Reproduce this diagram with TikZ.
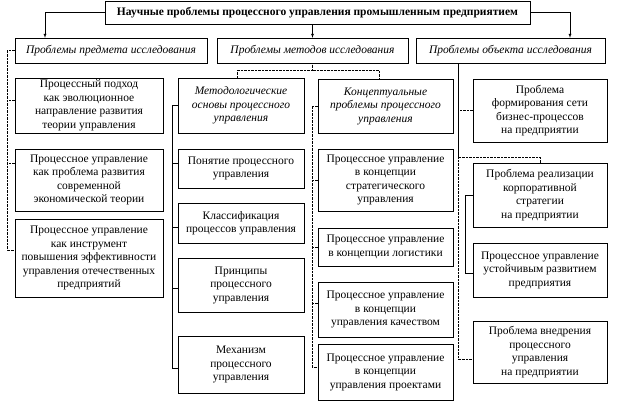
\documentclass[tikz,border=0pt]{standalone}
\usepackage{fontspec}
\setmainfont{Liberation Serif}
\usepackage{tikz}
\usetikzlibrary{arrows,calc}

\begin{document}
\begin{tikzpicture}[x=1pt,y=-1pt,
  box/.style={draw, thin, rectangle, align=center, inner sep=1pt, font=\fontsize{11.5}{13.5}\selectfont},
  head/.style={box, font=\fontsize{11.5}{13.5}\selectfont\itshape},
  link/.style={draw, thin, densely dotted},
  line/.style={draw, thin},
  arr/.style={line, -latex}]

\useasboundingbox (0,0) rectangle (623,417);

\node[box, font=\fontsize{11.5}{13.5}\selectfont\bfseries, minimum width=425pt, minimum height=23pt] (top) at (317.5,12.5) {Научные проблемы процессного управления промышленным предприятием};

\node[head, minimum width=192pt, minimum height=25pt] (p1) at (111,50.5) {Проблемы предмета исследования};
\node[head, minimum width=191pt, minimum height=25pt] (p2) at (312.5,50.5) {Проблемы методов исследования};
\node[head, minimum width=189pt, minimum height=25pt] (p3) at (510.5,50.5) {Проблемы объекта исследования};

\node[box, minimum width=148pt, minimum height=55pt] (a1) at (89,105.5) {Процессный подход\\как эволюционное\\направление развития\\теории управления};
\node[box, minimum width=148pt, minimum height=62pt] (a2) at (89,180) {Процессное управление\\как проблема развития\\современной\\экономической теории};
\node[box, minimum width=148pt, minimum height=78pt] (a3) at (89,258) {Процессное управление\\как инструмент\\повышения эффективности\\управления отечественных\\предприятий};

\node[head, minimum width=126pt, minimum height=55pt] (m0) at (241,105.5) {Методологические\\основы процессного\\управления};
\node[box, minimum width=126pt, minimum height=39pt] (m1) at (241,168.5) {Понятие процессного\\управления};
\node[box, minimum width=126pt, minimum height=40pt] (m2) at (241,223) {Классификация\\процессов управления};
\node[box, minimum width=126pt, minimum height=54pt] (m3) at (241,285) {Принципы\\процессного\\управления};
\node[box, minimum width=126pt, minimum height=57pt] (m4) at (241,364.5) {Механизм\\процессного\\управления};

\node[head, minimum width=135pt, minimum height=54pt] (c0) at (385.5,106) {Концептуальные\\проблемы процессного\\управления};
\node[box, minimum width=135pt, minimum height=62pt] (c1) at (385.5,180) {Процессное управление\\в концепции\\стратегического\\управления};
\node[box, minimum width=135pt, minimum height=38pt] (c2) at (385.5,247) {Процессное управление\\в концепции логистики};
\node[box, minimum width=135pt, minimum height=55pt] (c3) at (385.5,309.5) {Процессное управление\\в концепции\\управления качеством};
\node[box, minimum width=135pt, minimum height=56pt] (c4) at (385.5,372) {Процессное управление\\в концепции\\управления проектами};

\node[box, minimum width=134pt, minimum height=63pt] (r1) at (540,110.5) {Проблема\\формирования сети\\бизнес-процессов\\на предприятии};
\node[box, minimum width=134pt, minimum height=64pt] (r2) at (540,195) {Проблема реализации\\корпоративной\\стратегии\\на предприятии};
\node[box, minimum width=134pt, minimum height=54pt] (r3) at (540,270) {Процессное управление\\устойчивым развитием\\предприятия};
\node[box, minimum width=134pt, minimum height=62pt] (r4) at (540,352) {Проблема внедрения\\процессного\\управления\\на предприятии};

\draw[arr] (top.west) -| ([xshift=-66pt]p1.north);
\draw[arr] ([xshift=-5pt]top.south) -- (p2.north);
\draw[arr] (top.east) -| ([xshift=59.5pt]p3.north);

\draw[link] (p1.west) -- ++(-8,0) |- ([yshift=8pt]a3.west);
\draw[link] ([yshift=5.5pt]a1.west) -- ++(-8,0);
\draw[link] ([yshift=17pt]a2.west) -- ++(-8,0);

\draw[link] (p2.south) -- ++(0,7) -| ([xshift=-4pt]m0.north);
\draw[link] (p2.south) -- ++(0,7) -| ([xshift=-6.5pt]c0.north);

\draw[line] (m0.west) -- ++(-6,0) |- ([yshift=-3.5pt]m4.west);
\draw[line] ([yshift=5.5pt]m1.west) -- ++(-6,0);
\draw[line] ([yshift=-4pt]m2.west) -- ++(-6,0);
\draw[line] ([yshift=-3pt]m3.west) -- ++(-6,0);

\draw[link] (c0.west) -- ++(-6,0) |- ([yshift=5pt]c4.west);
\draw[link] (c1.west) -- ++(-6,0);
\draw[link] (c2.west) -- ++(-6,0);
\draw[link] ([yshift=6.5pt]c3.west) -- ++(-6,0);

\draw[link] ([xshift=42pt]p3.south west) |- ([yshift=-7pt]r4.west);
\draw[link] (r1.west) -- ++(-15,0);
\draw[link] (r2.north) -- ++(0,-6) -| ([xshift=42pt]p3.south west);
\draw[line] (r2.west) -- ++(-8,0) |- ([yshift=-3pt]r3.west);

\end{tikzpicture}
\end{document}
